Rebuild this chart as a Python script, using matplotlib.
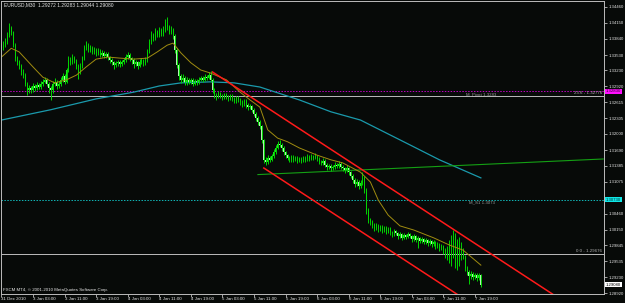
import matplotlib
matplotlib.use('Agg')
import matplotlib.pyplot as plt
import matplotlib.transforms as mtransforms
import numpy as np

# EURUSD M30 candles, values in pips above BASE
BASE = 1.29

open_pips = [
    462, 467, 472, 478, 492, 505, 498, 472, 447, 439,
    432, 420, 414, 397, 385, 389, 385, 393, 389, 395,
    391, 397, 401, 405, 397, 389, 385, 397, 401, 393,
    397, 405, 412, 401, 424, 443, 439, 447, 443, 432,
    420, 432, 447, 467, 472, 463, 467, 459, 463, 457,
    461, 453, 457, 451, 455, 449, 443, 439, 434, 437,
    439, 436, 439, 443, 449, 453, 447, 443, 436, 439,
    432, 439, 443, 437, 443, 461, 478, 492, 486, 498,
    492, 502, 494, 502, 511, 507, 498, 502, 490, 463,
    434, 412, 405, 409, 399, 405, 401, 405, 397, 403,
    399, 405, 409, 405, 411, 409, 414, 405, 385, 376,
    372, 378, 374, 370, 376, 372, 368, 374, 368, 364,
    370, 366, 362, 358, 364, 356, 352, 354, 347, 339,
    331, 323, 316, 288, 250, 246, 254, 250, 257, 265,
    273, 281, 279, 273, 265, 259, 254, 250, 256, 250,
    254, 248, 252, 248, 254, 250, 256, 252, 257, 254,
    257, 252, 246, 244, 248, 240, 236, 238, 234, 236,
    240, 238, 242, 236, 234, 230, 234, 226, 219, 211,
    203, 207, 199, 205, 215, 192, 153, 134, 130, 124,
    118, 122, 116, 120, 114, 118, 112, 116, 110, 106,
    112, 108, 102, 106, 99, 104, 101, 106, 102, 97,
    102, 95, 99, 93, 97, 91, 95, 89, 93, 87,
    91, 83, 87, 79, 83, 75, 72, 79, 85, 95,
    102, 87, 75, 83, 75, 64, 40, 33, 25, 29,
    23, 27, 21, 27.2]

close_pips = [
    467, 472, 478, 492, 505, 498, 472, 447, 439, 432,
    420, 414, 397, 385, 389, 385, 393, 389, 395, 391,
    397, 401, 405, 397, 389, 385, 397, 401, 393, 397,
    405, 412, 401, 424, 443, 439, 447, 443, 432, 420,
    432, 447, 467, 472, 463, 467, 459, 463, 457, 461,
    453, 457, 451, 455, 449, 443, 439, 434, 437, 439,
    436, 439, 443, 449, 453, 447, 443, 436, 439, 432,
    439, 443, 437, 443, 461, 478, 492, 486, 498, 492,
    502, 494, 502, 511, 507, 498, 502, 490, 463, 434,
    412, 405, 409, 399, 405, 401, 405, 397, 403, 399,
    405, 409, 405, 411, 409, 414, 405, 385, 376, 372,
    378, 374, 370, 376, 372, 368, 374, 368, 364, 370,
    366, 362, 358, 364, 356, 352, 354, 347, 339, 331,
    323, 316, 288, 250, 246, 254, 250, 257, 265, 273,
    281, 279, 273, 265, 259, 254, 250, 256, 250, 254,
    248, 252, 248, 254, 250, 256, 252, 257, 254, 257,
    252, 246, 244, 248, 240, 236, 238, 234, 236, 240,
    238, 242, 236, 234, 230, 234, 226, 219, 211, 203,
    207, 199, 205, 215, 192, 153, 134, 130, 124, 118,
    122, 116, 120, 114, 118, 112, 116, 110, 106, 112,
    108, 102, 106, 99, 104, 101, 106, 102, 97, 102,
    95, 99, 93, 97, 91, 95, 89, 93, 87, 91,
    83, 87, 79, 83, 75, 72, 79, 85, 95, 102,
    87, 75, 83, 75, 64, 40, 33, 25, 29, 23,
    27, 21, 27, 8.0]

high_pips = [
    474, 480, 486, 498, 515, 510, 500, 476, 452, 444,
    436, 426, 418, 400, 394, 393, 398, 397, 400, 399,
    402, 406, 410, 408, 400, 392, 402, 408, 405, 403,
    410, 418, 416, 428, 452, 450, 455, 452, 446, 436,
    438, 452, 472, 480, 476, 472, 470, 468, 466, 466,
    464, 462, 460, 459, 458, 452, 447, 442, 441, 444,
    443, 444, 448, 454, 458, 457, 450, 447, 444, 442,
    445, 448, 446, 449, 465, 484, 500, 496, 506, 502,
    508, 506, 510, 522, 527, 512, 510, 505, 493, 466,
    438, 416, 416, 412, 410, 408, 409, 408, 407, 406,
    410, 413, 412, 416, 415, 420, 422, 408, 389, 380,
    383, 381, 377, 380, 379, 375, 378, 377, 372, 374,
    373, 369, 366, 368, 367, 360, 359, 357, 350, 342,
    335, 327, 318, 290, 256, 259, 258, 262, 270, 279,
    286, 289, 283, 276, 268, 262, 258, 260, 259, 258,
    257, 256, 255, 258, 257, 261, 259, 262, 260, 263,
    260, 255, 250, 253, 251, 243, 242, 241, 240, 245,
    243, 247, 245, 240, 237, 239, 236, 229, 222, 214,
    212, 210, 211, 226, 218, 195, 156, 138, 134, 127,
    127, 125, 124, 123, 122, 121, 120, 119, 113, 116,
    115, 111, 110, 108, 108, 107, 111, 109, 105, 106,
    104, 103, 101, 101, 99, 99, 97, 97, 95, 95,
    93, 91, 89, 87, 85, 80, 84, 95, 105, 114,
    108, 96, 100, 90, 80, 66, 44, 37, 34, 32,
    31, 30, 31, 28.3]

low_pips = [
    458, 463, 468, 474, 488, 492, 468, 442, 434, 426,
    414, 408, 392, 376, 380, 379, 382, 384, 386, 387,
    388, 393, 398, 392, 380, 366, 380, 393, 388, 390,
    393, 400, 396, 398, 420, 434, 436, 438, 426, 407,
    416, 428, 444, 462, 458, 459, 454, 455, 452, 453,
    449, 450, 447, 448, 444, 437, 433, 425, 429, 432,
    430, 432, 435, 440, 445, 442, 436, 427, 431, 425,
    429, 435, 432, 434, 440, 457, 474, 480, 482, 487,
    488, 489, 490, 498, 502, 494, 494, 484, 456, 428,
    405, 398, 401, 394, 395, 396, 397, 393, 394, 395,
    396, 402, 401, 402, 405, 406, 401, 380, 370, 366,
    369, 370, 365, 367, 368, 363, 365, 364, 360, 361,
    362, 357, 353, 355, 351, 347, 348, 343, 334, 326,
    318, 310, 282, 244, 240, 242, 245, 247, 253, 261,
    270, 274, 268, 260, 254, 249, 246, 246, 246, 247,
    244, 245, 244, 245, 246, 247, 248, 249, 250, 251,
    248, 242, 240, 240, 236, 231, 232, 229, 230, 232,
    234, 235, 232, 229, 225, 227, 221, 214, 206, 198,
    199, 194, 196, 202, 186, 146, 128, 124, 118, 113,
    114, 111, 112, 109, 110, 107, 108, 105, 101, 103,
    104, 97, 99, 94, 96, 96, 98, 98, 91, 93,
    90, 80, 88, 89, 86, 87, 84, 85, 81, 83,
    78, 79, 74, 75, 68, 60, 55, 50, 45, 60,
    40, 37, 45, 55, 58, 34, 26, 10, 20, 17,
    19, 16, 18, 4.4]

# moving averages (bar index, pips)
fast_ma_bars = [0, 5, 9, 16, 21, 27, 33, 38, 43, 48, 54, 60, 67, 74, 79, 84, 87, 91,
                96, 101, 106, 114, 121, 126, 131, 135, 140, 145, 151, 160, 167, 173,
                182, 187, 191, 196, 202, 209, 219, 227, 234, 243]
fast_ma_pips = [449, 466, 459, 430, 410, 399, 405, 414, 430, 445, 449, 447, 445, 447,
                459, 472, 476, 457, 438, 424, 418, 405, 381, 366, 352, 308, 292, 285,
                273, 259, 250, 244, 226, 207, 172, 143, 122, 114, 99, 85, 75, 46]
slow_ma_bars = [0, 25, 48, 67, 80, 91, 106, 118, 131, 151, 167, 182, 207, 222, 243]
slow_ma_pips = [327, 347, 368, 381, 393, 399, 401, 399, 391, 366, 343, 327, 279, 250, 215]

# trend lines: (bar, price)
green_line = [(130, 1.31214), (305, 1.31516)]
channel_upper = [(107, 1.33201), (280, 1.28882)]
channel_lower_start = (133, 1.31341)

pivot_level = 1.32830
s1_level = 1.30730
fib236_level = 1.32745
fib0_level = 1.29676
last_price = 1.29080

ytick_vals = [1.34460, 1.34150, 1.33840, 1.33530, 1.33230, 1.32920, 1.32615, 1.32305,
              1.32000, 1.31690, 1.31385, 1.31075, 1.30770, 1.30460, 1.30150, 1.29845,
              1.29535, 1.29230, 1.28920]
hidden_ticks = [1.30770]  # covered by the S1 price box
xtick_bars = [0, 16, 32, 48, 64, 80, 96, 112, 128, 144, 160, 176, 192, 208, 224, 240]
xtick_labels = ['31 Dec 2010', '3 Jan 03:00', '3 Jan 11:00', '3 Jan 19:00', '4 Jan 03:00',
                '4 Jan 11:00', '4 Jan 19:00', '5 Jan 03:00', '5 Jan 11:00', '5 Jan 19:00',
                '6 Jan 03:00', '6 Jan 11:00', '6 Jan 19:00', '7 Jan 03:00', '7 Jan 11:00',
                '7 Jan 19:00']

FONT = ['Liberation Sans Narrow', 'Liberation Sans', 'DejaVu Sans']
plt.rcParams['font.family'] = FONT

BG = '#070a08'
GRAY = '#bcbcbc'

def px(a):
    return BASE + np.asarray(a, dtype=float) / 10000

o = px(open_pips)
c = px(close_pips)
h = px(high_pips)
l = px(low_pips)
idx = np.arange(len(c))

fig = plt.figure(figsize=(6.25, 3.03), dpi=100, facecolor=BG)
ax = fig.add_axes([1 / 625, 9 / 303, 603 / 625, 293 / 303], facecolor=BG)
ax.set_xlim(-0.2, 305.4)
ax.set_ylim(1.28901, 1.34576)

# horizontal levels
ax.axhline(pivot_level, color='#c000c0', lw=0.7, ls=(0, (1.5, 1.5)))
ax.axhline(fib236_level, color=GRAY, lw=0.7)
ax.axhline(s1_level, color='#10b8b8', lw=0.7, ls=(0, (1.5, 1.5)))
ax.axhline(fib0_level, color=GRAY, lw=0.7)

# slow MA and trend line
ax.plot(slow_ma_bars, px(slow_ma_pips), color='#1a9aac', lw=0.9)
gx, gy = zip(*green_line)
ax.plot(gx, gy, color='#14a014', lw=0.8)

# candles
up = c >= o
ax.vlines(idx, l, h, color='#00d400', lw=0.7)
body_lo = np.minimum(o, c)
body_h = np.abs(c - o)
ax.bar(idx[up], body_h[up], bottom=body_lo[up], width=0.55, color='#18e818', lw=0)
ax.bar(idx[~up], body_h[~up], bottom=body_lo[~up], width=0.55, color='#b4f0b4', lw=0)

# fast MA
ax.plot(fast_ma_bars, px(fast_ma_pips), color='#a08c10', lw=0.7)

# regression channel
(x1, y1), (x2, y2) = channel_upper
slope = (y2 - y1) / (x2 - x1)
xe = 400
ax.plot([x1, xe], [y1, y1 + slope * (xe - x1)], color='#ff1a1a', lw=1.1)
lx, ly = channel_lower_start
ax.plot([lx, xe], [ly, ly + slope * (xe - lx)], color='#ff1a1a', lw=1.1)

# level captions
ax.text(243, pivot_level - 0.0002, 'M_Pivot 1.3283', color='#9a9a9a', fontsize=3.2,
        ha='center', va='top')
ax.text(243.5, s1_level - 0.0002, 'M_S1 1.3073', color='#9a9a9a', fontsize=3.2,
        ha='center', va='top')
tr = mtransforms.blended_transform_factory(ax.transAxes, ax.transData)
ax.text(0.997, fib236_level + 0.00015, '23.6 - 1.32776', color='#b0b0b0', fontsize=3.2,
        ha='right', va='bottom', transform=tr)
ax.text(0.997, fib0_level + 0.00015, '0.0 - 1.29676', color='#b0b0b0', fontsize=3.2,
        ha='right', va='bottom', transform=tr)

# axes styling
for s in ax.spines.values():
    s.set_color(GRAY)
    s.set_linewidth(0.7)
ax.yaxis.tick_right()
ax.set_yticks(ytick_vals)
ax.set_yticklabels(['' if v in hidden_ticks else f'{v:.5f}' for v in ytick_vals])
ax.tick_params(axis='y', colors=GRAY, labelcolor='#e6e6e6', labelsize=3.1,
               length=2, width=0.6, pad=1.2)
ax.set_xticks(xtick_bars)
ax.set_xticklabels(xtick_labels)
ax.tick_params(axis='x', colors=GRAY, labelcolor='#e6e6e6', labelsize=3.2,
               length=2, width=0.6, pad=0.5)
for lbl in ax.get_xticklabels():
    lbl.set_ha('left')

# price boxes on the right scale
for lev, bg, fg in [(pivot_level, '#ff10ff', '#300030'),
                    (s1_level, '#10e8e8', '#003030'),
                    (last_price, '#ffffff', '#000000')]:
    ax.text(1.0035, lev, f'{lev:.5f}', transform=tr, fontsize=3.1, color=fg,
            ha='left', va='center', clip_on=False,
            bbox=dict(boxstyle='square,pad=0.15', facecolor=bg, edgecolor='none'))

fig.text(4 / 625, 1 - 5 / 303, 'EURUSD,M30  1.29272 1.29283 1.29044 1.29080',
         color='#e6e6e6', fontsize=3.5, va='center')
fig.text(3 / 625, 1 - 290 / 303, 'FXCM MT4, \u00a9 2001-2010 MetaQuotes Software Corp.',
         color='#e6e6e6', fontsize=3.2, va='center')

fig.savefig('out.png', dpi=100, facecolor=BG)
